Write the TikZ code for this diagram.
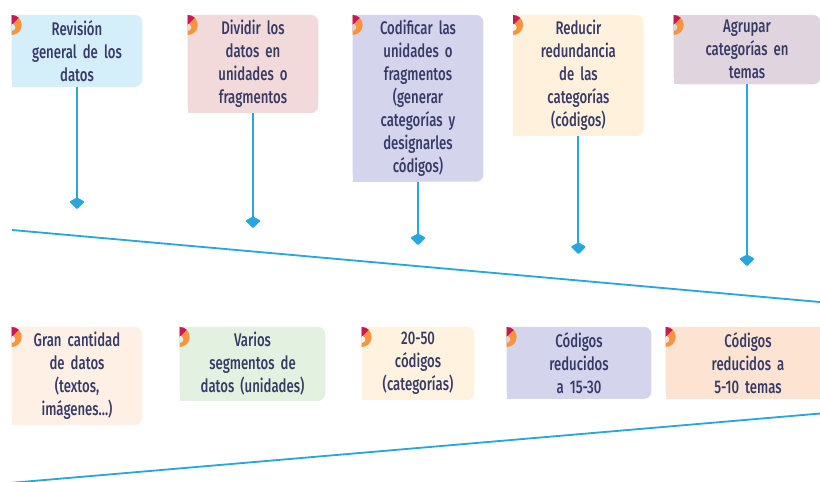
\documentclass[tikz,border=0pt]{standalone}
\usepackage{fontspec}
\setmainfont[FakeStretch=0.72, UprightFont=* Medium]{Fira Sans}
\usepackage{tikz}
\usetikzlibrary{arrows.meta}
\usetikzlibrary{backgrounds}

\definecolor{tinta}{HTML}{363A66}
\definecolor{linea}{HTML}{2AA6DE}
\definecolor{magenta}{HTML}{C8185A}
\definecolor{naranja}{HTML}{F7943C}
\definecolor{celeste}{HTML}{D4EEFA}
\definecolor{rosa}{HTML}{F2D9DA}
\definecolor{lila}{HTML}{D4D4EC}
\definecolor{crema}{HTML}{FFF1DC}
\definecolor{malva}{HTML}{E0D4DE}
\definecolor{durazno}{HTML}{FFF0E6}
\definecolor{verde}{HTML}{E3F1E1}
\definecolor{arena}{HTML}{FFF3DF}
\definecolor{salmon}{HTML}{FDE3D1}

\tikzset{
  paso/.style={anchor=north, align=center, inner xsep=0pt, inner ysep=3.6pt,
    text=tinta, font=\fontsize{13}{16.3}\selectfont},
  flecha/.style={draw=linea, line width=1.4pt,
    -{Kite[length=8.5pt,width=11pt,inset=3pt,round]}},
  eje/.style={draw=linea, line width=1.3pt},
}

\begin{document}
\begin{tikzpicture}
    \useasboundingbox (0,0) rectangle (20.5,12.05);
    \clip (0,0) rectangle (20.5,12.05);

    % pasos
    \node[paso, text width=3.25cm] (t1) at (1.925, 11.675) {Revisión\\general de los\\datos};
    \node[paso, text width=3.25cm] (t2) at (6.325, 11.675) {Dividir los\\datos en\\unidades o\\fragmentos};
    \node[paso, text width=3.25cm] (t3) at (10.45, 11.675) {Codificar las\\unidades o\\fragmentos\\(generar\\categorías y\\designarles\\códigos)};
    \node[paso, text width=3.25cm] (t4) at (14.46, 11.675) {Reducir\\redundancia\\de las\\categorías\\(códigos)};
    \node[paso, text width=3.65cm] (t5) at (18.675, 11.675) {Agrupar\\categorías en\\temas};

    % resultados
    \node[paso, text width=3.25cm]  (b1) at (1.925, 3.875)  {Gran cantidad\\de datos\\(textos,\\imágenes...)};
    \node[paso, text width=3.625cm] (b2) at (6.3125, 3.875) {Varios\\segmentos de\\datos (unidades)};
    \node[paso, text width=2.8cm]   (b3) at (10.45, 3.875)  {20-50\\códigos\\(categorías)};
    \node[paso, text width=3.6cm]   (b4) at (14.475, 3.875) {Códigos\\reducidos\\a 15-30};
    \node[paso, text width=4.1cm]   (b5) at (18.7, 3.875)   {Códigos\\reducidos a\\5-10 temas};

    \begin{scope}[on background layer]
      \clip (0,0) rectangle (20.5,12.05);
      \foreach \n/\c in {t1/celeste, t2/rosa, t3/lila, t4/crema, t5/malva,
                         b1/durazno, b2/verde, b3/arena, b4/lila, b5/salmon} {
        \fill[\c, rounded corners=5pt] (\n.north west) rectangle (\n.south east);
        \fill[\c] (\n.north west) rectangle (\n.south);
        \begin{scope}[shift={(\n.north west)}]
          \fill[naranja] (0,-0.5) arc[start angle=-90, end angle=90, radius=0.25] -- cycle;
          \fill[magenta] (0,-0.25) -- (0,0) arc[start angle=90, end angle=45, radius=0.25] -- cycle;
          \fill[\c] (0,-0.4) arc[start angle=-90, end angle=90, radius=0.09] -- cycle;
        \end{scope}
      }
    \end{scope}

    % ejes
    \coordinate (u0) at (0.3, 6.3);
    \coordinate (u1) at (20.6, 4.49);
    \coordinate (v0) at (0.3, -0.02);
    \coordinate (v1) at (20.6, 1.72);
    \draw[eje] (u0) -- (u1);
    \draw[eje] (v0) -- (v1);

    \coordinate (e1) at (1.925, 6.825);
    \coordinate (e2) at (6.325, 6.35);
    \coordinate (e3) at (10.45, 5.925);
    \coordinate (e4) at (14.46, 5.7);
    \coordinate (e5) at (18.675, 5.4);
    \foreach \i in {1,...,5}
      \draw[flecha] (t\i.south) -- (e\i);

\end{tikzpicture}
\end{document}
